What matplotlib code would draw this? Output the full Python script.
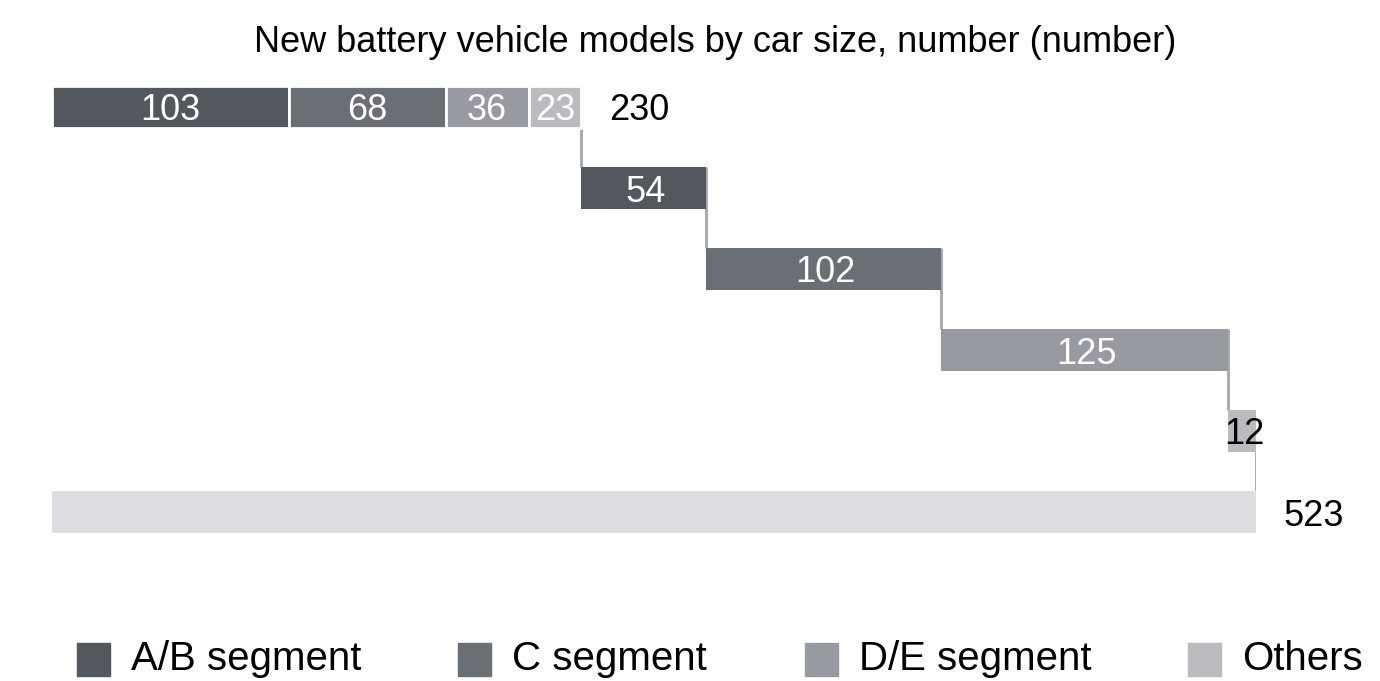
import matplotlib

matplotlib.use("Agg")
import matplotlib.pyplot as plt
from matplotlib.patches import Rectangle

plt.rcParams["font.family"] = ["Liberation Sans", "DejaVu Sans"]

# first row: models per segment, stacked
segments = ["A/B segment", "C segment", "D/E segment", "Others"]
first_row = [103, 68, 36, 23]
# following rows: additions per segment
steps = [54, 102, 125, 12]
total = 523

colors = ["#53575e", "#6a6e75", "#979aa1", "#b9bbbf"]
total_color = "#dcdde0"
connector_color = "#a3a6ab"

fig = plt.figure(figsize=(13.8, 6.81), dpi=100)
ax = fig.add_axes([52 / 1380, 128.5 / 681, 1204 / 1380, 486 / 681])
ax.set_xlim(0, total)
ax.set_ylim(5.5, -0.5)
ax.axis("off")

bar_h = 0.53
label_size = 26
label_va = "center_baseline"

# stacked first row
left = 0
for value, color in zip(first_row, colors):
    ax.barh(0, value, left=left, height=bar_h, color=color,
            edgecolor="white", linewidth=2)
    ax.text(left + value / 2, 0, str(value), ha="center", va=label_va,
            color="white", fontsize=label_size)
    left += value
first_total = left
ax.text(first_total + 12, 0, str(first_total), ha="left", va=label_va,
        color="black", fontsize=label_size)

# step rows
ends = [first_total]
for i, (value, color) in enumerate(zip(steps, colors), start=1):
    start = ends[-1]
    ax.barh(i, value, left=start, height=bar_h, color=color, linewidth=0)
    txt_color = "black" if value < 20 else "white"
    ax.text(start + value / 2 + 1, i, str(value), ha="center", va=label_va,
            color=txt_color, fontsize=label_size)
    ends.append(start + value)

# total row
row_total = len(steps) + 1
ax.barh(row_total, total, height=bar_h, color=total_color, linewidth=0)
ax.text(total + 12, row_total, str(total), ha="left", va=label_va,
        color="black", fontsize=label_size)

# connectors from top of each row to top of the next
for i, x in enumerate(ends):
    ax.plot([x, x], [i - bar_h / 2, i + 1 - bar_h / 2],
            color=connector_color, linewidth=2, solid_capstyle="butt",
            zorder=0)

fig.text(715 / 1380, 1 - 42 / 681,
         "New battery vehicle models by car size, number (number)",
         ha="center", va="center", fontsize=26)

# legend
legend_x = [77, 458, 805, 1188]
for x, name, color in zip(legend_x, segments, colors):
    fig.patches.append(Rectangle((x / 1380, 1 - 676 / 681), 33 / 1380,
                                 33 / 681, transform=fig.transFigure,
                                 color=color, figure=fig))
    fig.text((x + 54) / 1380, 1 - 659 / 681, name, ha="left",
             va="center", fontsize=29)

fig.savefig("out.png", dpi=100)
